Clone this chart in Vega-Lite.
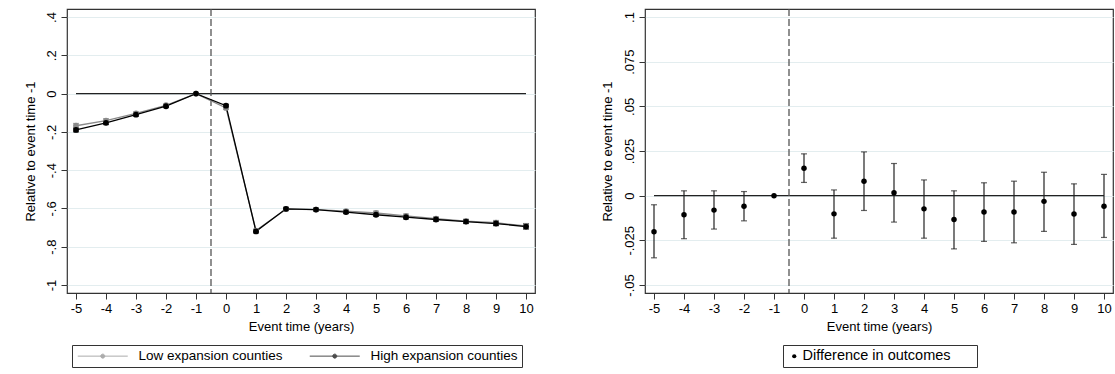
{
  "$schema": "https://vega.github.io/schema/vega-lite/v6.json",
  "padding": {"left": 23, "top": 7, "right": 2, "bottom": 2},
  "background": "white",
  "spacing": 110,
  "bounds": "flush",
  "config": {
    "font": "Liberation Sans",
    "view": {"stroke": "#333", "strokeWidth": 1.2},
    "axis": {"labelFont": "Liberation Sans", "titleFont": "Liberation Sans", "labelFontSize": 13, "titleFontSize": 13, "labelColor": "#000", "titleColor": "#000", "titleFontWeight": "normal", "tickColor": "#333", "tickSize": 6, "domain": false, "labelPadding": 3, "labelOverlap": false},
    "axisX": {"grid": false, "titlePadding": 5, "labelOverlap": false, "labelSeparation": -8},
    "axisY": {"grid": true, "gridColor": "#e3edef", "labelAngle": -90},
    "legend": {"labelFont": "Liberation Sans", "labelFontSize": 13.5, "labelColor": "#000", "strokeColor": "#333", "padding": 4, "orient": "none", "labelLimit": 400}
  },
  "datasets": {
    "ref": [{"x": -5, "x2": 10, "y": 0}],
    "event": [{"x": -0.5}],
    "left": [
      {"t": -5, "series": "Low expansion counties", "est": -0.168, "lo": -0.180, "hi": -0.156},
      {"t": -4, "series": "Low expansion counties", "est": -0.141, "lo": -0.151, "hi": -0.131},
      {"t": -3, "series": "Low expansion counties", "est": -0.103, "lo": -0.111, "hi": -0.095},
      {"t": -2, "series": "Low expansion counties", "est": -0.061, "lo": -0.068, "hi": -0.054},
      {"t": -1, "series": "Low expansion counties", "est": 0, "lo": 0, "hi": 0},
      {"t": 0, "series": "Low expansion counties", "est": -0.075, "lo": -0.083, "hi": -0.067},
      {"t": 1, "series": "Low expansion counties", "est": -0.716, "lo": -0.724, "hi": -0.708},
      {"t": 2, "series": "Low expansion counties", "est": -0.604, "lo": -0.612, "hi": -0.596},
      {"t": 3, "series": "Low expansion counties", "est": -0.606, "lo": -0.613, "hi": -0.599},
      {"t": 4, "series": "Low expansion counties", "est": -0.614, "lo": -0.622, "hi": -0.606},
      {"t": 5, "series": "Low expansion counties", "est": -0.624, "lo": -0.634, "hi": -0.614},
      {"t": 6, "series": "Low expansion counties", "est": -0.639, "lo": -0.649, "hi": -0.629},
      {"t": 7, "series": "Low expansion counties", "est": -0.653, "lo": -0.663, "hi": -0.643},
      {"t": 8, "series": "Low expansion counties", "est": -0.667, "lo": -0.678, "hi": -0.656},
      {"t": 9, "series": "Low expansion counties", "est": -0.675, "lo": -0.687, "hi": -0.663},
      {"t": 10, "series": "Low expansion counties", "est": -0.692, "lo": -0.705, "hi": -0.679},
      {"t": -5, "series": "High expansion counties", "est": -0.190, "lo": -0.200, "hi": -0.180},
      {"t": -4, "series": "High expansion counties", "est": -0.153, "lo": -0.162, "hi": -0.144},
      {"t": -3, "series": "High expansion counties", "est": -0.110, "lo": -0.118, "hi": -0.102},
      {"t": -2, "series": "High expansion counties", "est": -0.066, "lo": -0.073, "hi": -0.059},
      {"t": -1, "series": "High expansion counties", "est": 0, "lo": 0, "hi": 0},
      {"t": 0, "series": "High expansion counties", "est": -0.063, "lo": -0.070, "hi": -0.056},
      {"t": 1, "series": "High expansion counties", "est": -0.720, "lo": -0.728, "hi": -0.712},
      {"t": 2, "series": "High expansion counties", "est": -0.602, "lo": -0.610, "hi": -0.594},
      {"t": 3, "series": "High expansion counties", "est": -0.606, "lo": -0.613, "hi": -0.599},
      {"t": 4, "series": "High expansion counties", "est": -0.619, "lo": -0.627, "hi": -0.611},
      {"t": 5, "series": "High expansion counties", "est": -0.633, "lo": -0.641, "hi": -0.625},
      {"t": 6, "series": "High expansion counties", "est": -0.646, "lo": -0.655, "hi": -0.637},
      {"t": 7, "series": "High expansion counties", "est": -0.658, "lo": -0.667, "hi": -0.649},
      {"t": 8, "series": "High expansion counties", "est": -0.669, "lo": -0.679, "hi": -0.659},
      {"t": 9, "series": "High expansion counties", "est": -0.679, "lo": -0.690, "hi": -0.668},
      {"t": 10, "series": "High expansion counties", "est": -0.695, "lo": -0.708, "hi": -0.682}
    ],
    "right": [
      {"t": -5, "series": "Difference in outcomes", "est": -0.0202, "lo": -0.0348, "hi": -0.0051},
      {"t": -4, "series": "Difference in outcomes", "est": -0.0107, "lo": -0.0241, "hi": 0.0027},
      {"t": -3, "series": "Difference in outcomes", "est": -0.0081, "lo": -0.0187, "hi": 0.0027},
      {"t": -2, "series": "Difference in outcomes", "est": -0.0059, "lo": -0.0141, "hi": 0.0023},
      {"t": -1, "series": "Difference in outcomes", "est": 0, "lo": null, "hi": null},
      {"t": 0, "series": "Difference in outcomes", "est": 0.0154, "lo": 0.0074, "hi": 0.0234},
      {"t": 1, "series": "Difference in outcomes", "est": -0.0102, "lo": -0.0238, "hi": 0.0032},
      {"t": 2, "series": "Difference in outcomes", "est": 0.0081, "lo": -0.0083, "hi": 0.0245},
      {"t": 3, "series": "Difference in outcomes", "est": 0.0016, "lo": -0.0148, "hi": 0.0180},
      {"t": 4, "series": "Difference in outcomes", "est": -0.0074, "lo": -0.0238, "hi": 0.0088},
      {"t": 5, "series": "Difference in outcomes", "est": -0.0133, "lo": -0.0298, "hi": 0.0027},
      {"t": 6, "series": "Difference in outcomes", "est": -0.0092, "lo": -0.0256, "hi": 0.0072},
      {"t": 7, "series": "Difference in outcomes", "est": -0.0092, "lo": -0.0264, "hi": 0.0081},
      {"t": 8, "series": "Difference in outcomes", "est": -0.0032, "lo": -0.0200, "hi": 0.0131},
      {"t": 9, "series": "Difference in outcomes", "est": -0.0103, "lo": -0.0273, "hi": 0.0066},
      {"t": 10, "series": "Difference in outcomes", "est": -0.0059, "lo": -0.0234, "hi": 0.0119}
    ]
  },
  "hconcat": [
    {
      "width": 468,
      "height": 284,
      "layer": [
        {
          "data": {"name": "ref"},
          "mark": {"type": "rule", "color": "#222", "strokeWidth": 1.1},
          "encoding": {
            "x": {"field": "x", "type": "quantitative", "title": "Event time (years)", "scale": {"domain": [-5.3, 10.3], "nice": false, "zero": false},
                  "axis": {"values": [-5, -4, -3, -2, -1, 0, 1, 2, 3, 4, 5, 6, 7, 8, 9, 10], "labelExpr": "toString(datum.value)", "labelOverlap": false, "labelFlush": false}},
            "x2": {"field": "x2"},
            "y": {"field": "y", "type": "quantitative", "title": "Relative to event time -1", "scale": {"domain": [-1.042, 0.442], "nice": false, "zero": false},
                  "axis": {"values": [-1, -0.8, -0.6, -0.4, -0.2, 0, 0.2, 0.4], "labelExpr": "replace(toString(datum.value), '0.', '.')", "labelOverlap": false, "titleX": -37, "titleY": 142, "titleBaseline": "middle"}}
          }
        },
        {
          "data": {"name": "event"},
          "mark": {"type": "rule", "color": "#555", "strokeWidth": 1.3, "strokeDash": [7, 3]},
          "encoding": {"x": {"field": "x", "type": "quantitative", "title": "Event time (years)",
                  "axis": {"values": [-5, -4, -3, -2, -1, 0, 1, 2, 3, 4, 5, 6, 7, 8, 9, 10], "labelExpr": "toString(datum.value)", "labelOverlap": false, "labelFlush": false}}}
        },
        {
          "data": {"name": "left"},
          "transform": [{"filter": "datum.t != -1"}],
          "mark": {"type": "errorbar", "ticks": {"size": 6}, "thickness": 1.2},
          "encoding": {
            "x": {"field": "t", "type": "quantitative", "title": "Event time (years)",
                  "axis": {"values": [-5, -4, -3, -2, -1, 0, 1, 2, 3, 4, 5, 6, 7, 8, 9, 10], "labelExpr": "toString(datum.value)", "labelOverlap": false, "labelFlush": false}},
            "y": {"field": "lo", "type": "quantitative", "title": "Relative to event time -1"},
            "y2": {"field": "hi"},
            "color": {"field": "series", "type": "nominal", "scale": {"domain": ["Low expansion counties", "High expansion counties"], "range": ["#8a8a8a", "#000000"]}}
          }
        },
        {
          "data": {"name": "left"},
          "mark": {"type": "line", "strokeWidth": 1.3},
          "encoding": {
            "x": {"field": "t", "type": "quantitative", "title": "Event time (years)",
                  "axis": {"values": [-5, -4, -3, -2, -1, 0, 1, 2, 3, 4, 5, 6, 7, 8, 9, 10], "labelExpr": "toString(datum.value)", "labelOverlap": false, "labelFlush": false}},
            "y": {"field": "est", "type": "quantitative", "title": "Relative to event time -1"},
            "color": {"field": "series", "type": "nominal",
                      "legend": {"title": null, "legendX": 5, "legendY": 336, "direction": "horizontal", "columns": 2, "columnPadding": 24, "symbolOffset": 20, "labelOffset": 29, "symbolSize": 100, "symbolStrokeWidth": 1, "symbolType": "M-5,0H5M-0.4,0A0.4,0.4,0,1,1,0.4,0A0.4,0.4,0,1,1,-0.4,0Z"}}
          }
        },
        {
          "data": {"name": "left"},
          "mark": {"type": "point", "filled": true, "size": 34, "opacity": 1},
          "encoding": {
            "x": {"field": "t", "type": "quantitative", "title": "Event time (years)",
                  "axis": {"values": [-5, -4, -3, -2, -1, 0, 1, 2, 3, 4, 5, 6, 7, 8, 9, 10], "labelExpr": "toString(datum.value)", "labelOverlap": false, "labelFlush": false}},
            "y": {"field": "est", "type": "quantitative", "title": "Relative to event time -1"},
            "color": {"field": "series", "type": "nominal"}
          }
        }
      ]
    },
    {
      "width": 468,
      "height": 284,
      "layer": [
        {
          "data": {"name": "ref"},
          "mark": {"type": "rule", "color": "#222", "strokeWidth": 1.1},
          "encoding": {
            "x": {"field": "x", "type": "quantitative", "title": "Event time (years)", "scale": {"domain": [-5.3, 10.3], "nice": false, "zero": false},
                  "axis": {"values": [-5, -4, -3, -2, -1, 0, 1, 2, 3, 4, 5, 6, 7, 8, 9, 10], "labelExpr": "toString(datum.value)", "labelOverlap": false, "labelFlush": false}},
            "x2": {"field": "x2"},
            "y": {"field": "y", "type": "quantitative", "title": "Relative to event time -1", "scale": {"domain": [-0.0545, 0.1045], "nice": false, "zero": false},
                  "axis": {"values": [-0.05, -0.025, 0, 0.025, 0.05, 0.075, 0.1], "labelExpr": "replace(toString(datum.value), '0.', '.')", "labelOverlap": false, "titleX": -38, "titleY": 142, "titleBaseline": "middle"}}
          }
        },
        {
          "data": {"name": "event"},
          "mark": {"type": "rule", "color": "#555", "strokeWidth": 1.3, "strokeDash": [7, 3]},
          "encoding": {"x": {"field": "x", "type": "quantitative", "title": "Event time (years)",
                  "axis": {"values": [-5, -4, -3, -2, -1, 0, 1, 2, 3, 4, 5, 6, 7, 8, 9, 10], "labelExpr": "toString(datum.value)", "labelOverlap": false, "labelFlush": false}}}
        },
        {
          "data": {"name": "right"},
          "transform": [{"filter": "isValid(datum.lo)"}],
          "mark": {"type": "errorbar", "ticks": {"size": 6}, "thickness": 1.2, "color": "#222"},
          "encoding": {
            "x": {"field": "t", "type": "quantitative", "title": "Event time (years)",
                  "axis": {"values": [-5, -4, -3, -2, -1, 0, 1, 2, 3, 4, 5, 6, 7, 8, 9, 10], "labelExpr": "toString(datum.value)", "labelOverlap": false, "labelFlush": false}},
            "y": {"field": "lo", "type": "quantitative", "title": "Relative to event time -1"},
            "y2": {"field": "hi"}
          }
        },
        {
          "data": {"name": "right"},
          "mark": {"type": "point", "filled": true, "size": 30, "opacity": 1, "color": "#000"},
          "encoding": {
            "x": {"field": "t", "type": "quantitative", "title": "Event time (years)",
                  "axis": {"values": [-5, -4, -3, -2, -1, 0, 1, 2, 3, 4, 5, 6, 7, 8, 9, 10], "labelExpr": "toString(datum.value)", "labelOverlap": false, "labelFlush": false}},
            "y": {"field": "est", "type": "quantitative", "title": "Relative to event time -1"},
            "shape": {"field": "series", "type": "nominal", "scale": {"domain": ["Difference in outcomes"], "range": ["circle"]},
                      "legend": {"title": null, "legendX": 716, "legendY": 336, "labelOffset": 1, "labelFontSize": 14.5, "symbolSize": 18, "symbolFillColor": "#000", "symbolStrokeColor": "#000", "padding": 4, "labelExpr": "datum.label + '\u2800\u2800'"}}
          }
        }
      ]
    }
  ]
}
